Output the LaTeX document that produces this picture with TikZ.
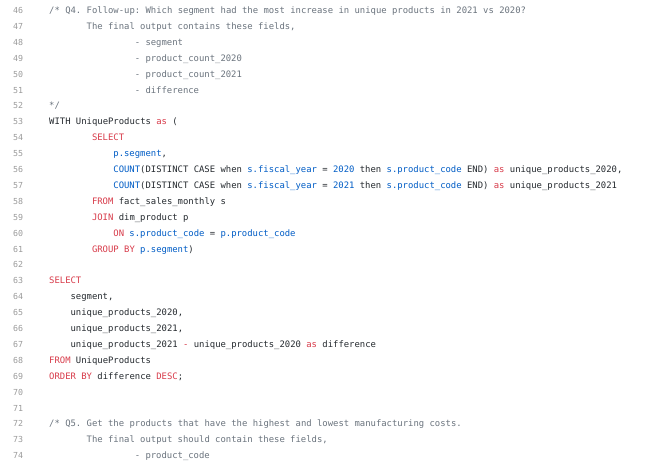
\documentclass[tikz,border=0pt]{standalone}
\usepackage{fontspec}
\setmonofont{DejaVu Sans Mono}[WordSpace={1,0,0}]
\definecolor{numgray}{HTML}{9A9A9A}
\definecolor{cmgray}{HTML}{6A737D}
\definecolor{kwred}{HTML}{D73A49}
\definecolor{fnblue}{HTML}{005CC5}
\definecolor{txt}{HTML}{24292E}
\newcommand{\kw}[1]{\textcolor{kwred}{#1}}
\newcommand{\fn}[1]{\textcolor{fnblue}{#1}}
\begin{document}
\begin{tikzpicture}[x=1pt,y=-1pt]
	\tikzstyle{num} = [anchor=base west, inner sep=0pt, text=numgray, font={\fontsize{8.3}{10}\ttfamily}];
	\tikzstyle{code} = [anchor=base west, inner sep=0pt, text=txt, font={\fontsize{8.9}{10}\ttfamily}];
	\tikzstyle{cmt} = [code, text=cmgray];
	\useasboundingbox (0,0) rectangle (650,464);
	\def \cw {5.35}
	\def \lh {15.9}

	% line numbers
	\foreach \n in {46,...,74} {
		\node[num] (n\n) at (13, 13.5+\n*\lh-46*\lh) {\n};
	}

	% comment block Q4
	\node[cmt] (l46) at (49, 13.5) {/* Q4. Follow-up: Which segment had the most increase in unique products in 2021 vs 2020?};
	\node[cmt] (l47) at (49+7*\cw, 13.5+1*\lh) {The final output contains these fields,};
	\node[cmt] (l48) at (49+16*\cw, 13.5+2*\lh) {- segment};
	\node[cmt] (l49) at (49+16*\cw, 13.5+3*\lh) {- product\_count\_2020};
	\node[cmt] (l50) at (49+16*\cw, 13.5+4*\lh) {- product\_count\_2021};
	\node[cmt] (l51) at (49+16*\cw, 13.5+5*\lh) {- difference};
	\node[cmt] (l52) at (49, 13.5+6*\lh) {*/};

	% CTE
	\node[code] (l53) at (49, 13.5+7*\lh) {WITH UniqueProducts \kw{as} (};
	\node[code] (l54) at (49+8*\cw, 13.5+8*\lh) {\kw{SELECT}};
	\node[code] (l55) at (49+12*\cw, 13.5+9*\lh) {\fn{p.segment},};
	\node[code] (l56) at (49+12*\cw, 13.5+10*\lh) {\fn{COUNT}(DISTINCT CASE when \fn{s.fiscal\_year} = \fn{2020} then \fn{s.product\_code} END) \kw{as} unique\_products\_2020,};
	\node[code] (l57) at (49+12*\cw, 13.5+11*\lh) {\fn{COUNT}(DISTINCT CASE when \fn{s.fiscal\_year} = \fn{2021} then \fn{s.product\_code} END) \kw{as} unique\_products\_2021};
	\node[code] (l58) at (49+8*\cw, 13.5+12*\lh) {\kw{FROM} fact\_sales\_monthly s};
	\node[code] (l59) at (49+8*\cw, 13.5+13*\lh) {\kw{JOIN} dim\_product p};
	\node[code] (l60) at (49+12*\cw, 13.5+14*\lh) {\kw{ON} \fn{s.product\_code} = \fn{p.product\_code}};
	\node[code] (l61) at (49+8*\cw, 13.5+15*\lh) {\kw{GROUP BY} \fn{p.segment})};

	% main query
	\node[code] (l63) at (49, 13.5+17*\lh) {\kw{SELECT}};
	\node[code] (l64) at (49+4*\cw, 13.5+18*\lh) {segment,};
	\node[code] (l65) at (49+4*\cw, 13.5+19*\lh) {unique\_products\_2020,};
	\node[code] (l66) at (49+4*\cw, 13.5+20*\lh) {unique\_products\_2021,};
	\node[code] (l67) at (49+4*\cw, 13.5+21*\lh) {unique\_products\_2021 \kw{-} unique\_products\_2020 \kw{as} difference};
	\node[code] (l68) at (49, 13.5+22*\lh) {\kw{FROM} UniqueProducts};
	\node[code] (l69) at (49, 13.5+23*\lh) {\kw{ORDER BY} difference \kw{DESC};};

	% comment block Q5
	\node[cmt] (l72) at (49, 13.5+26*\lh) {/* Q5. Get the products that have the highest and lowest manufacturing costs.};
	\node[cmt] (l73) at (49+7*\cw, 13.5+27*\lh) {The final output should contain these fields,};
	\node[cmt] (l74) at (49+16*\cw, 13.5+28*\lh) {- product\_code};
\end{tikzpicture}
\end{document}
